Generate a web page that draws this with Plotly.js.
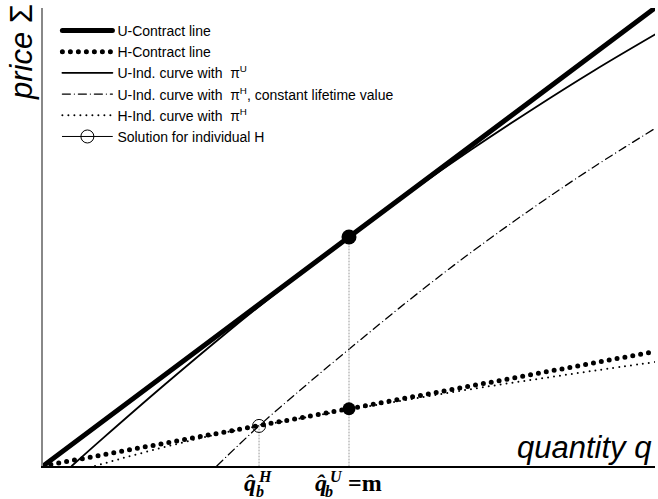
<!DOCTYPE html>
<html>
<head>
<meta charset="utf-8">
<script src="https://cdn.plot.ly/plotly-3.0.1.min.js"></script>
<style>
  html, body { margin: 0; padding: 0; background: #fff; }
  #chart { width: 658px; height: 499px; }
  /* round caps turn zero-length dashes into round dots */
  .js-line { stroke-linecap: round; }
</style>
</head>
<body>
<div id="chart"></div>
<script>
// contract lines (price as a function of quantity)
const uContractQ = [0, 10];
const uContractP = [0, 10];
const hContractQ = [0, 10];
const hContractP = [0, 2.5];

// U indifference curve with pi^U (tangent to U-contract at q = m)
const uIndUQ = [0.47, 1, 2, 3, 4, 5, 6, 7, 8, 9, 10];
const uIndUP = [0, 0.63, 1.79, 2.91, 3.98, 5, 5.98, 6.91, 7.79, 8.63, 9.42];

// U indifference curve with pi^H, constant lifetime value
const uIndHQ = [2.84, 3.53, 4.31, 5, 6, 6.81, 8, 9, 10];
const uIndHP = [0, 0.875, 1.78, 2.55, 3.64, 4.48, 5.63, 6.53, 7.37];

// H indifference curve with pi^H (tangent to H-contract at q_b^H)
const hIndQ = [0.85, 1.3, 1.86, 2.35, 2.9, 3.53, 4.2, 5, 6, 7, 8, 9, 10];
const hIndP = [0, 0.17, 0.37, 0.535, 0.71, 0.875, 1.04, 1.23, 1.458, 1.68, 1.885, 2.08, 2.27];

// special quantities and prices
const qbH = 3.53, pbH = 0.875;       // solution for individual H
const qM = 5, pUm = 5, pHm = 1.25;   // q_b^U = m on both contract lines

const sansFont = 'Liberation Sans, Arial, sans-serif';
const mathFont = 'Liberation Serif, Times New Roman, serif';

const traces = [
  { x: uContractQ, y: uContractP, mode: 'lines', name: 'U-Contract line',
    line: { color: '#000', width: 5 } },
  { x: hContractQ, y: hContractP, mode: 'lines', name: 'H-Contract line',
    line: { color: '#000', width: 5, dash: '0px,8px' } },
  { x: uIndUQ, y: uIndUP, mode: 'lines', name: 'U-Ind. curve with  π<sup>U</sup>',
    line: { color: '#000', width: 1.8, shape: 'spline' } },
  { x: uIndHQ, y: uIndHP, mode: 'lines', name: 'U-Ind. curve with  π<sup>H</sup>, constant lifetime value',
    line: { color: '#000', width: 1.3, dash: '8px,4px,0px,4px', shape: 'spline' } },
  { x: hIndQ, y: hIndP, mode: 'lines', name: 'H-Ind. curve with  π<sup>H</sup>',
    line: { color: '#000', width: 2, dash: '0px,6px', shape: 'spline' } },
  // vertical guides down to the quantity axis
  { x: [qbH, qbH], y: [0, pbH], mode: 'lines', showlegend: false, hoverinfo: 'skip',
    line: { color: '#999', width: 1, dash: '1px,2px' } },
  { x: [qM, qM], y: [0, pUm], mode: 'lines', showlegend: false, hoverinfo: 'skip',
    line: { color: '#999', width: 1, dash: '1px,2px' } },
  { x: [qbH], y: [pbH], mode: 'lines+markers', name: 'Solution for individual H',
    line: { color: '#000', width: 1 },
    marker: { symbol: 'circle-open', size: 13, color: '#000', line: { width: 1, color: '#000' } } },
  { x: [qM, qM], y: [pUm, pHm], mode: 'markers', showlegend: false, opacity: 1,
    marker: { symbol: 'circle', size: [15, 13], color: '#000', opacity: 1,
              line: { width: 0, color: '#000' } } }
];

const annotations = [
  { text: '<i>price</i> Σ', xref: 'paper', yref: 'paper', x: -0.036, y: 1.013,
    xanchor: 'center', yanchor: 'top', textangle: -90, showarrow: false,
    font: { family: sansFont, size: 31, color: '#000' } },
  { text: '<i>quantity q</i>', xref: 'paper', yref: 'paper', x: 0.999, y: 0.04,
    xanchor: 'right', yanchor: 'middle', showarrow: false,
    font: { family: sansFont, size: 31, color: '#000' } },
  // q-hat_b^H
  { text: '<b><i>q̂</i></b>', xref: 'x', yref: 'paper', x: qbH, y: 0, xshift: -9, yshift: -2,
    xanchor: 'center', yanchor: 'top', showarrow: false,
    font: { family: mathFont, size: 24, color: '#000' } },
  { text: '<b><i>H</i></b>', xref: 'x', yref: 'paper', x: qbH, y: 0, xshift: 6, yshift: -10,
    xanchor: 'center', yanchor: 'middle', showarrow: false,
    font: { family: mathFont, size: 16, color: '#000' } },
  { text: '<b><i>b</i></b>', xref: 'x', yref: 'paper', x: qbH, y: 0, xshift: 1, yshift: -25,
    xanchor: 'center', yanchor: 'middle', showarrow: false,
    font: { family: mathFont, size: 16, color: '#000' } },
  // q-hat_b^U = m
  { text: '<b><i>q̂</i></b>', xref: 'x', yref: 'paper', x: qM, y: 0, xshift: -28, yshift: -2,
    xanchor: 'center', yanchor: 'top', showarrow: false,
    font: { family: mathFont, size: 24, color: '#000' } },
  { text: '<b><i>U</i></b>', xref: 'x', yref: 'paper', x: qM, y: 0, xshift: -13, yshift: -10,
    xanchor: 'center', yanchor: 'middle', showarrow: false,
    font: { family: mathFont, size: 16, color: '#000' } },
  { text: '<b><i>b</i></b>', xref: 'x', yref: 'paper', x: qM, y: 0, xshift: -20, yshift: -25,
    xanchor: 'center', yanchor: 'middle', showarrow: false,
    font: { family: mathFont, size: 16, color: '#000' } },
  { text: '<b>=m</b>', xref: 'x', yref: 'paper', x: qM, y: 0, xshift: 16, yshift: -2,
    xanchor: 'center', yanchor: 'top', showarrow: false,
    font: { family: mathFont, size: 24, color: '#000' } }
];

const layout = {
  width: 658, height: 499,
  margin: { l: 43, r: 3, t: 8, b: 33, pad: 0 },
  paper_bgcolor: '#fff', plot_bgcolor: '#fff',
  showlegend: true,
  legend: {
    x: 0.0235, y: 0.985, xanchor: 'left', yanchor: 'top',
    bgcolor: 'rgba(0,0,0,0)', borderwidth: 0,
    itemwidth: 50, tracegroupgap: 0,
    font: { family: sansFont, size: 14, color: '#000' }
  },
  xaxis: {
    range: [0, 10], showgrid: false, zeroline: false, showticklabels: false,
    ticks: '', showline: true, linecolor: '#000', linewidth: 1.5, fixedrange: true
  },
  yaxis: {
    range: [0, 10], showgrid: false, zeroline: false, showticklabels: false,
    ticks: '', showline: true, linecolor: '#888', linewidth: 2, fixedrange: true
  },
  annotations: annotations
};

Plotly.newPlot('chart', traces, layout, { displayModeBar: false, staticPlot: true });
</script>
</body>
</html>
